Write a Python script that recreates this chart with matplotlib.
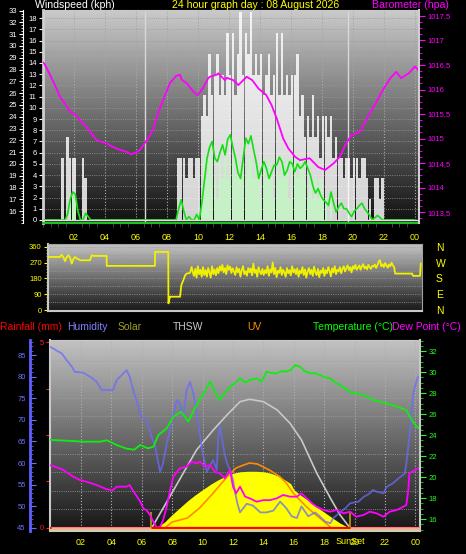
import numpy as np
import matplotlib.pyplot as plt
from matplotlib.colors import LinearSegmentedColormap
from matplotlib.ticker import MultipleLocator

plt.rcParams['font.family'] = ['Liberation Sans', 'DejaVu Sans']

W, H = 466, 554
KN = 1.852  # kph per knot, the station logs whole knots

# ---- wind, 10 minute samples (6 per hour)
gust_kn = [0, 0, 0, 0, 0, 0,   0, 3, 0, 4, 3, 3,   3, 0, 0, 3, 2, 0,
           0, 0, 0, 0, 0, 0,   0, 0, 0, 0, 0, 0,   0, 0, 0, 0, 0, 0,
           0, 0, 0, 0, 0, 0,   0, 0, 0, 0, 0, 0,   0, 0, 0, 0, 3, 3,
           3, 2, 3, 3, 2, 3,   3, 5, 6, 5, 8, 6,   7, 8, 6, 7, 6, 9,
           7, 9, 6, 8, 10, 7,  9, 8, 10, 7, 8, 7,  8, 6, 7, 8, 6, 7,
           9, 6, 9, 6, 7, 6,   7, 7, 8, 5, 6, 4,   5, 4, 6, 4, 5, 3,
           5, 5, 4, 5, 3, 4,   3, 3, 2, 3, 3, 2,   3, 3, 2, 3, 3, 2,
           1, 0, 2, 2, 1, 2,   0, 0, 0, 0, 0, 0,   0, 0, 0, 0, 0, 0]
speed_kn = [0, 0, 0, 0, 0, 0,  0, 0, 0, 0, 1, 1,   1, 0, 0, 0, 0, 0,
            0, 0, 0, 0, 0, 0,  0, 0, 0, 0, 0, 0,   0, 0, 0, 0, 0, 0,
            0, 0, 0, 0, 0, 0,  0, 0, 0, 0, 0, 0,   0, 0, 0, 0, 0, 0,
            0, 0, 0, 0, 0, 0,  0, 1, 3, 2, 3, 3,   2, 1, 3, 2, 3, 2,
            3, 3, 2, 3, 2, 3,  2, 3, 3, 2, 3, 2,   1, 3, 2, 3, 2, 1,
            3, 2, 3, 2, 3, 1,  3, 3, 2, 3, 3, 2,   1, 2, 1, 2, 1, 2,
            1, 1, 0, 1, 0, 0,  0, 0, 0, 0, 0, 0,   0, 0, 0, 0, 0, 0,
            0, 0, 0, 0, 0, 0,  0, 0, 0, 0, 0, 0,   0, 0, 0, 0, 0, 0]
avg_kph = [0, 0, 0, 0, 0, 0,   0, 0, 0, 0.5, 1.8, 2.5,   2.3, 0.8, 0, 0, 0.6, 0.3,
           0, 0, 0, 0, 0, 0,   0, 0, 0, 0, 0, 0,   0, 0, 0, 0, 0, 0,
           0, 0, 0, 0, 0, 0,   0, 0, 0, 0, 0, 0,   0, 0, 0, 0, 1.0, 1.8,
           0.8, 0, 0.3, 0, 0, 0.5,   0, 1.5, 3.5, 5.5, 6.5, 7.0,
           5.5, 5.2, 6.0, 6.7, 5.8, 7.2,   7.6, 6.5, 5.5, 4.2, 3.7, 5.5,
           7.3, 6.8, 7.5, 6.3, 5.2, 3.7,   4.5, 5.2, 4.6, 3.7, 4.3, 4.9,
           4.9, 5.6, 5.2, 4.0, 4.4, 5.2,   5.0, 4.3, 5.0, 4.6, 4.8, 5.2,
           4.6, 4.0, 3.0, 2.4, 2.8, 2.2,   1.8, 1.6, 1.3, 2.5, 1.5, 0.7,
           1.2, 1.5, 1.0, 1.0, 0.6, 0.3,   0.8, 1.0, 1.3, 1.5, 1.0, 0.7,
           0.4, 0, 0.2, 0.4, 0.2, 0,   0, 0, 0, 0, 0, 0,   0, 0, 0, 0, 0, 0]

# ---- barometer
baro_h = [0.0, 0.08, 0.45, 0.77, 1.1, 1.4, 1.74, 2.1, 2.2, 2.8, 3.46, 4.1, 4.5, 4.97,
          5.4, 5.7, 6.0, 6.26, 6.7, 7.1, 7.33, 7.76, 8.19, 8.6, 8.84, 8.95, 9.27, 9.7,
          9.9, 10.0, 10.34, 10.66, 10.77, 11.2, 11.3, 11.74, 11.85, 12.28, 12.6, 13.14,
          13.5, 13.9, 14.4, 14.75, 15.08, 15.5, 15.83, 16.26, 16.58, 17.2, 17.76, 18.2,
          18.73, 19.16, 19.5, 19.9, 20.45, 20.9, 21.4, 21.85, 22.4, 22.8, 23.1, 23.6,
          24.0, 24.2]
baro_hpa = [1016.55, 1016.53, 1016.3, 1016.09, 1015.85, 1015.72, 1015.55, 1015.48,
            1015.44, 1015.24, 1014.97, 1014.9, 1014.83, 1014.77, 1014.73, 1014.68,
            1014.72, 1014.77, 1014.97, 1015.17, 1015.44, 1015.79, 1016.13, 1016.28,
            1016.3, 1016.2, 1016.13, 1015.96, 1015.9, 1015.89, 1016.04, 1016.23,
            1016.26, 1016.3, 1016.33, 1016.19, 1016.24, 1016.19, 1016.09, 1016.26,
            1016.19, 1016.02, 1015.89, 1015.68, 1015.41, 1015.0, 1014.8, 1014.63,
            1014.56, 1014.6, 1014.42, 1014.36, 1014.49, 1014.63, 1014.87, 1015.07,
            1015.14, 1015.41, 1015.68, 1015.95, 1016.23, 1016.36, 1016.23, 1016.33,
            1016.47, 1016.4]
baro_ticks = [1013.5, 1014, 1014.5, 1015, 1015.5, 1016, 1016.5, 1017, 1017.5]
baro_labels = ['1013,5', '1014', '1014,5', '1015', '1015,5', '1016', '1016,5',
               '1017', '1017,5']

# ---- wind direction
dir_early_h = [0.0, 0.77, 0.88, 1.0, 1.1, 1.2, 1.31, 1.42, 1.53, 1.63, 1.74, 1.85,
               1.96, 2.1, 2.71, 2.82, 2.92, 3.78, 3.79, 6.9, 6.91, 7.76, 7.77, 7.87,
               8.52, 8.6, 8.73, 8.85, 8.95, 9.16, 9.27]
dir_early = [303, 303, 316, 300, 279, 300, 313, 300, 265, 290, 303, 295, 290, 284,
             284, 313, 309, 309, 252, 252, 332, 332, 38, 76, 76, 142, 170, 199, 208,
             212, 246]
# 5 minute samples from 09:20 to 22:20
dir_noisy = [220, 195, 235, 185, 250, 205, 230, 190,
             245, 200, 228, 190, 240, 215, 185, 250, 205, 232, 198, 240,
             210, 250, 225, 258, 215, 240, 205, 255, 230, 248, 212, 238,
             220, 200, 245, 215, 235, 190, 228, 250, 205, 222, 195, 240,
             215, 238, 198, 265, 212, 230, 190, 245, 220, 205, 235, 200,
             228, 210, 250, 195, 232, 215, 272, 205, 240, 188, 225, 212,
             245, 200, 230, 215, 190, 240, 210, 228, 198, 250, 215, 232,
             205, 238, 190, 225, 210, 245, 200, 232, 185, 220, 240, 205,
             230, 195, 248, 215, 200, 235, 188, 225, 212, 240, 195, 228,
             210, 245, 225, 192, 238, 215, 250, 205, 230, 220, 245, 210,
             235, 250, 220, 240, 255, 228, 245, 215, 250, 235, 258, 230,
             242, 255, 230, 250, 262, 238, 248, 232, 258, 245, 235, 252,
             248, 260, 240, 255, 275, 285, 250, 262, 245, 268, 255, 242,
             260, 250, 270, 255, 245]
dir_tail_h = [22.4, 23.5, 23.55, 24.0, 24.05]
dir_tail = [208, 208, 195, 195, 265]

# ---- lower panel
hum_h = [0.0, 0.18, 0.5, 0.73, 1.06, 1.4, 1.6, 2.15, 2.6, 3.03, 3.36, 4.1, 4.35, 4.8,
         5.0, 5.2, 5.4, 5.8, 6.0, 6.3, 6.65, 6.87, 7.09, 7.2, 7.4, 7.64, 7.97, 8.3,
         8.5, 8.73, 8.95, 9.17, 9.39, 9.72, 9.94, 10.27, 10.5, 10.7, 10.93, 11.03,
         11.15, 11.26, 11.45, 11.6, 11.8, 12.0, 12.15, 12.3, 12.46, 12.9, 13.3, 13.8,
         14.2, 14.65, 15.1, 15.5, 15.86, 16.2, 16.5, 16.95, 17.4, 17.7, 18.05, 18.4,
         18.6, 19.04, 19.4, 19.7, 20.25, 20.6, 21.0, 21.2, 21.45, 21.9, 22.1, 22.5,
         23.0, 23.3, 23.4, 23.6, 23.86, 24.08, 24.2]
hum_pct = [86.8, 86.5, 85.8, 85.4, 83.8, 82.3, 81.1, 80.9, 80.0, 78.8, 76.9, 76.9,
           79.2, 80.8, 81.5, 80.0, 77.3, 72.7, 70.7, 70.0, 66.1, 64.0, 60.0, 58.0,
           60.0, 64.5, 69.6, 74.6, 73.8, 70.7, 76.9, 78.8, 76.1, 69.2, 63.5, 58.0,
           59.5, 60.7, 58.4, 66.0, 68.5, 66.1, 62.0, 60.0, 58.4, 56.1, 53.0, 50.5,
           48.6, 50.6, 50.2, 48.6, 48.6, 49.0, 51.1, 49.6, 47.7, 47.3, 50.0, 47.7,
           48.6, 47.7, 46.5, 46.1, 47.3, 48.6, 49.6, 50.7, 51.1, 52.2, 53.0, 53.8,
           53.4, 53.0, 54.5, 55.3, 56.8, 57.6, 59.9, 66.0, 76.1, 79.2, 80.0]

temp_h = [0.0, 0.18, 1.06, 2.15, 3.25, 3.7, 4.35, 5.0, 5.5, 5.9, 6.4, 6.76, 7.09,
          7.64, 8.07, 8.6, 9.06, 9.6, 10.0, 10.5, 11.1, 11.8, 12.1, 12.46, 12.8, 13.1,
          13.56, 13.9, 14.2, 14.55, 14.9, 15.2, 15.5, 15.8, 16.1, 16.4, 16.7, 17.07,
          17.4, 17.7, 18.05, 18.4, 18.7, 19.04, 19.4, 19.7, 20.1, 20.6, 21.2, 21.6,
          22.1, 22.8, 23.4, 23.76, 24.08, 24.3]
temp_c = [23.55, 23.52, 23.46, 23.37, 23.37, 23.5, 23.05, 22.7, 22.6, 23.05, 22.73,
          22.89, 24.0, 24.64, 25.74, 26.22, 25.27, 26.86, 27.8, 29.08, 27.33, 28.6,
          28.9, 29.4, 29.0, 29.24, 29.4, 29.08, 30.03, 29.9, 29.87, 30.1, 30.03, 30.2,
          30.67, 30.5, 30.1, 29.87, 29.9, 29.71, 29.5, 29.4, 29.0, 28.76, 28.4, 28.12,
          27.95, 27.81, 27.33, 27.2, 27.02, 26.7, 26.38, 25.43, 24.79, 24.6]

dew_h = [0.0, 0.18, 0.84, 1.5, 1.93, 2.37, 3.03, 3.69, 4.1, 4.35, 5.0, 5.2, 5.4, 5.9,
         6.1, 6.3, 6.54, 6.76, 6.98, 7.2, 7.4, 7.64, 7.86, 8.07, 8.5, 8.95, 9.28, 9.6,
         9.83, 10.16, 10.5, 10.8, 11.14, 11.47, 11.8, 12.0, 12.2, 12.46, 12.8, 13.1,
         13.56, 14.0, 14.43, 14.87, 15.3, 15.75, 16.2, 16.5, 16.85, 17.2, 17.5, 17.95,
         18.4, 18.8, 19.26, 19.7, 20.1, 20.57, 21.0, 21.45, 21.9, 22.3, 22.77, 23.2,
         23.4, 23.53, 23.6, 23.97, 24.2]
dew_c = [21.1, 21.05, 20.67, 20.03, 19.71, 19.55, 19.24, 18.83, 18.76, 19.08, 19.08,
         19.24, 18.76, 17.65, 17.0, 16.86, 16.38, 15.74, 15.2, 15.25, 15.9, 17.17,
         18.76, 20.03, 20.83, 20.98, 21.46, 21.3, 21.46, 20.98, 21.14, 20.5, 20.35,
         19.87, 20.67, 19.08, 18.45, 19.08, 18.13, 17.97, 17.65, 17.8, 17.8, 17.97,
         18.29, 18.13, 18.13, 18.45, 17.97, 17.49, 17.17, 16.86, 16.7, 16.86, 16.54,
         16.7, 16.22, 16.38, 16.7, 16.54, 16.22, 16.7, 16.86, 17.17, 17.33, 18.76,
         20.35, 20.67, 20.83]

solar_h = [6.6, 7.0, 7.5, 8.0, 8.5, 9.0, 9.5, 10.0, 10.5, 11.0, 11.5, 12.0, 12.5, 13.0,
           13.5, 14.0, 14.5, 15.0, 15.5, 15.8, 16.0, 16.5, 17.0, 17.5, 18.0, 18.5, 19.0,
           19.5, 19.7]
solar_w = [0, 5, 40, 90, 135, 180, 220, 255, 290, 320, 345, 365, 375, 378, 378, 375,
           365, 345, 315, 295, 255, 215, 180, 140, 105, 70, 35, 8, 0]

thsw_h = [6.65, 7.96, 9.6, 10.7, 11.6, 12.46, 13.1, 14.0, 14.9, 15.75, 16.5, 17.5,
          18.4, 19.04, 19.7]
thsw_w = [0, 230, 520, 653, 753, 842, 858, 842, 787, 698, 587, 367, 200, 87, 0]

uv_h = [7.5, 8.0, 9.0, 9.8, 10.7, 11.6, 12.2, 12.7, 13.1, 13.6, 14.0, 14.5, 15.1, 15.5,
        15.95, 16.4, 16.85, 17.3, 17.7, 18.1, 18.4]
uv_idx = [0, 0.6, 1.0, 2.0, 3.5, 5.1, 6.0, 6.3, 6.5, 6.4, 6.1, 5.7, 5.1, 4.5, 3.5,
          2.8, 2.1, 1.5, 1.0, 0.5, 0.1]

rain_h = [0.0, 24.3]
rain_mm = [0, 0]

sunrise, sunset = 6.6, 19.7
hour_labels = ['02', '04', '06', '08', '10', '12', '14', '16', '18', '20', '22', '00']


def box(x0, y0, x1, y1):
    return [x0 / W, 1 - y1 / H, (x1 - x0) / W, (y1 - y0) / H]


def shade(ax, top, bottom):
    cmap = LinearSegmentedColormap.from_list('bg', [bottom, top])
    ax.imshow(np.linspace(0, 1, 256).reshape(-1, 1), cmap=cmap, aspect='auto',
              extent=[0, 1, 0, 1], origin='lower', transform=ax.transAxes, zorder=0)


def overlay(ax, ylim):
    t = ax.twinx()
    t.set_ylim(*ylim)
    t.axis('off')
    return t


def only_spine(ax, name):
    for s in ax.spines:
        ax.spines[s].set_visible(s == name)


def label(x, y, s, color, size=7.5, **kw):
    fig.text(x / W, 1 - y / H, s, color=color, fontsize=size, va='baseline', **kw)


fig = plt.figure(figsize=(W / 100, H / 100), dpi=100, facecolor='black')

# ================= wind speed / barometer
ax1 = fig.add_axes(box(43, 10, 419, 223))
shade(ax1, '#cacaca', '#101010')
tw = np.arange(len(gust_kn)) / 6 + 1 / 12
ax1.bar(tw, np.array(gust_kn) * KN, width=0.155, color='white', alpha=0.82, lw=0, zorder=2)
ax1.bar(tw, np.array(speed_kn) * KN, width=0.155, color='#c6f0c6', lw=0, zorder=3)
ax1.plot(tw, avg_kph, color='#12e012', lw=1.2, zorder=4)
ax1.axhline(0, color='#e0e0e0', lw=1, zorder=4)
for h in (sunrise, sunset):
    ax1.axvline(h, color='#d8d8d8', lw=1, zorder=1.5)
ax1.set_xlim(0, 24.26)
ax1.set_ylim(-0.27, 18.72)
ax1.set_yticks(range(0, 19))
ax1.tick_params(axis='y', colors='white', labelsize=5.5, length=3, pad=1.5)
ax1.set_xticks(range(2, 25, 2))
ax1.set_xticklabels(hour_labels)
ax1.xaxis.set_minor_locator(MultipleLocator(0.5))
ax1.tick_params(axis='x', which='major', colors='#ffff00', labelsize=6.5, length=0, pad=7)
ax1.tick_params(axis='x', which='minor', colors='#505050', length=3)
ax1.grid(axis='y', color='#9a9a9a', ls=':', lw=0.6)
ax1.grid(axis='x', color='#a8a8a8', ls=':', lw=0.8)
ax1.set_axisbelow(True)
ax1.spines['left'].set_color('#d0d0d0')
ax1.spines['left'].set_linewidth(2)
ax1.spines['top'].set_color('#c8c8c8')
ax1.spines['bottom'].set_color('#20c020')
ax1.spines['bottom'].set_linewidth(1.5)
ax1.spines['right'].set_visible(False)

outer = ax1.twinx()
only_spine(outer, 'left')
outer.spines['left'].set_position(('axes', -20 / 376))
outer.spines['left'].set_color('white')
outer.yaxis.tick_left()
outer.set_ylim(15, 33.05)
outer.set_yticks(range(16, 34))
outer.yaxis.set_minor_locator(MultipleLocator(0.25))
outer.tick_params(axis='y', which='major', colors='white', labelsize=5.5, length=3, pad=1.5)
outer.tick_params(axis='y', which='minor', colors='white', length=1.5)

baro = ax1.twinx()
only_spine(baro, 'right')
baro.spines['right'].set_color('#d0d0d0')
baro.spines['right'].set_linewidth(1.5)
baro.plot(baro_h, baro_hpa, color='#ff00ff', lw=1.3)
baro.set_ylim(1013.28, 1017.62)
baro.set_yticks(baro_ticks)
baro.set_yticklabels(baro_labels)
baro.yaxis.set_minor_locator(MultipleLocator(0.125))
baro.tick_params(axis='y', which='major', colors='#ff00ff', labelsize=5.5, length=4, pad=2)
baro.tick_params(axis='y', which='minor', colors='#ff00ff', length=2)

label(35, 8.5, 'Windspeed (kph)', 'white', 7.6)
label(172, 8.5, '24 hour graph day : 08 August 2026', '#ffff00', 7.6)
label(372, 8.5, 'Barometer (hpa)', '#ff00ff', 7.6)

# ================= wind direction
ax2 = fig.add_axes(box(48, 244, 422, 311))
shade(ax2, '#c4c4c4', '#181818')
for g in range(0, 361, 45):
    ax2.axhline(g, color='#9a9a9a', ls=':', lw=0.6, zorder=1)
dir_h = np.concatenate([dir_early_h, 9 + 20 / 60 + np.arange(len(dir_noisy)) / 12, dir_tail_h])
dir_deg = np.concatenate([dir_early, dir_noisy, dir_tail])
ax2.plot(dir_h, dir_deg, color='#f0f000', lw=1.3, zorder=3)
ax2.set_xlim(0, 24.13)
ax2.set_ylim(-5.7, 377)
ax2.set_xticks([])
ax2.set_yticks(range(0, 361, 90))
ax2.yaxis.set_minor_locator(MultipleLocator(18))
ax2.tick_params(axis='y', which='major', colors='#ffff00', labelsize=5.5, length=3, pad=1.5)
ax2.tick_params(axis='y', which='minor', colors='#c8c800', length=1.5)
for s, c in (('left', '#c8c8c8'), ('bottom', '#c8c8c8'), ('top', '#a0a0a0'), ('right', '#a0a0a0')):
    ax2.spines[s].set_color(c)
ax2.spines['left'].set_linewidth(1.5)
ax2.spines['bottom'].set_linewidth(1.5)

compass = ax2.twinx()
only_spine(compass, None)
compass.set_ylim(-5.7, 377)
compass.set_yticks(range(0, 361, 90))
compass.set_yticklabels(['N', 'E', 'S', 'W', 'N'])
compass.tick_params(axis='y', colors='#ffff00', labelsize=7.5, length=0, pad=10)

# ================= lower panel
ax3 = fig.add_axes(box(50, 340, 420, 531))
shade(ax3, '#c2c2c2', '#161616')
ax3.set_xlim(-0.04, 24.3)
ax3.set_ylim(-0.081, 5.054)
ax3.set_yticks([0, 1.25, 2.5, 3.75, 5])
ax3.set_yticklabels(['0', '', '', '', '5'])
ax3.yaxis.set_minor_locator(MultipleLocator(0.5))
ax3.tick_params(axis='y', which='major', colors='#ff2020', labelsize=5.5, length=3, pad=1.5)
ax3.tick_params(axis='y', which='minor', length=0)
ax3.grid(axis='y', which='minor', color='#a0a0a0', ls=':', lw=0.6)
ax3.set_xticks(range(2, 25, 2))
ax3.set_xticklabels(hour_labels)
ax3.tick_params(axis='x', colors='#ffff00', labelsize=6.5, length=0, pad=5)
ax3.grid(axis='x', color='#b0b0b0', ls=':', lw=0.8)
ax3.set_axisbelow(True)
for s in ('left', 'bottom', 'top'):
    ax3.spines[s].set_color('#c8c8c8')
ax3.spines['left'].set_linewidth(1.5)
ax3.spines['bottom'].set_linewidth(1.5)
ax3.spines['right'].set_visible(False)

sol = overlay(ax3, (-20, 1253))
sol.axhline(-8, color='#ffff00', lw=1)
sol.fill_between(solar_h, solar_w, color='#ffff00', lw=0)
sol.plot(thsw_h, thsw_w, color='#c8c8c8', lw=1.2)
sol.vlines([sunrise, sunset], 0, 107, color='#b8a000', lw=1.2)

uv = overlay(ax3, (-0.3, 18.8))
uv.plot(uv_h, uv_idx, color='#ff8c00', lw=1.2)

hum = ax3.twinx()
only_spine(hum, 'left')
hum.spines['left'].set_position(('axes', -20 / 370))
hum.spines['left'].set_color('#6060ff')
hum.spines['left'].set_linewidth(2)
hum.yaxis.tick_left()
hum.plot(hum_h, hum_pct, color='#6a6aff', alpha=0.75, lw=1.3)
hum.set_ylim(44.3, 88.47)
hum.set_yticks(range(45, 86, 5))
hum.yaxis.set_minor_locator(MultipleLocator(1))
hum.tick_params(axis='y', which='major', direction='in', colors='#7070ff', labelsize=5.5,
                length=4, pad=3)
hum.tick_params(axis='y', which='minor', direction='in', colors='#6060ff', length=2)

tmp = ax3.twinx()
only_spine(tmp, 'right')
tmp.spines['right'].set_color('#c8c8c8')
tmp.spines['right'].set_linewidth(1.5)
tmp.plot(temp_h, temp_c, color='#10ee10', lw=1.3)
tmp.plot(dew_h, dew_c, color='#ff00ff', lw=1.3)
tmp.set_ylim(14.86, 33.05)
tmp.set_yticks(range(16, 33, 2))
tmp.yaxis.set_minor_locator(MultipleLocator(0.5))
tmp.tick_params(axis='y', which='major', colors='#20ff20', labelsize=5.5, length=4, pad=2)
tmp.tick_params(axis='y', which='minor', colors='#20d020', length=2)

top = overlay(ax3, (-0.081, 5.054))
top.plot(rain_h, rain_mm, color='#ff0000', lw=1.6)
top.hlines(0, rain_h[0], sunrise, color='#f0a8a8', lw=1.8)
top.hlines(0, sunset, rain_h[-1], color='#f0a8a8', lw=1.8)

# the station prints this over the 20 label
ax3.annotate('SunSet', xy=(sunset, 0), xycoords=('data', 'axes fraction'),
             xytext=(0, -7.2), textcoords='offset points', ha='center', va='center',
             color='#ffff00', fontsize=6.5)

label(0, 330, 'Rainfall (mm)', '#ff0000')
label(67, 330, 'Humidity', '#8080ff')
label(118, 330, 'Solar', '#a0a020')
label(173, 330, 'THSW', '#c8c8c8')
label(247, 330, 'UV', '#ff8c00')
label(313, 330, 'Temperature (°C)', '#00ff00')
label(392, 330, 'Dew Point (°C)', '#ff00ff')

fig.savefig('out.png', dpi=100, facecolor='black')
